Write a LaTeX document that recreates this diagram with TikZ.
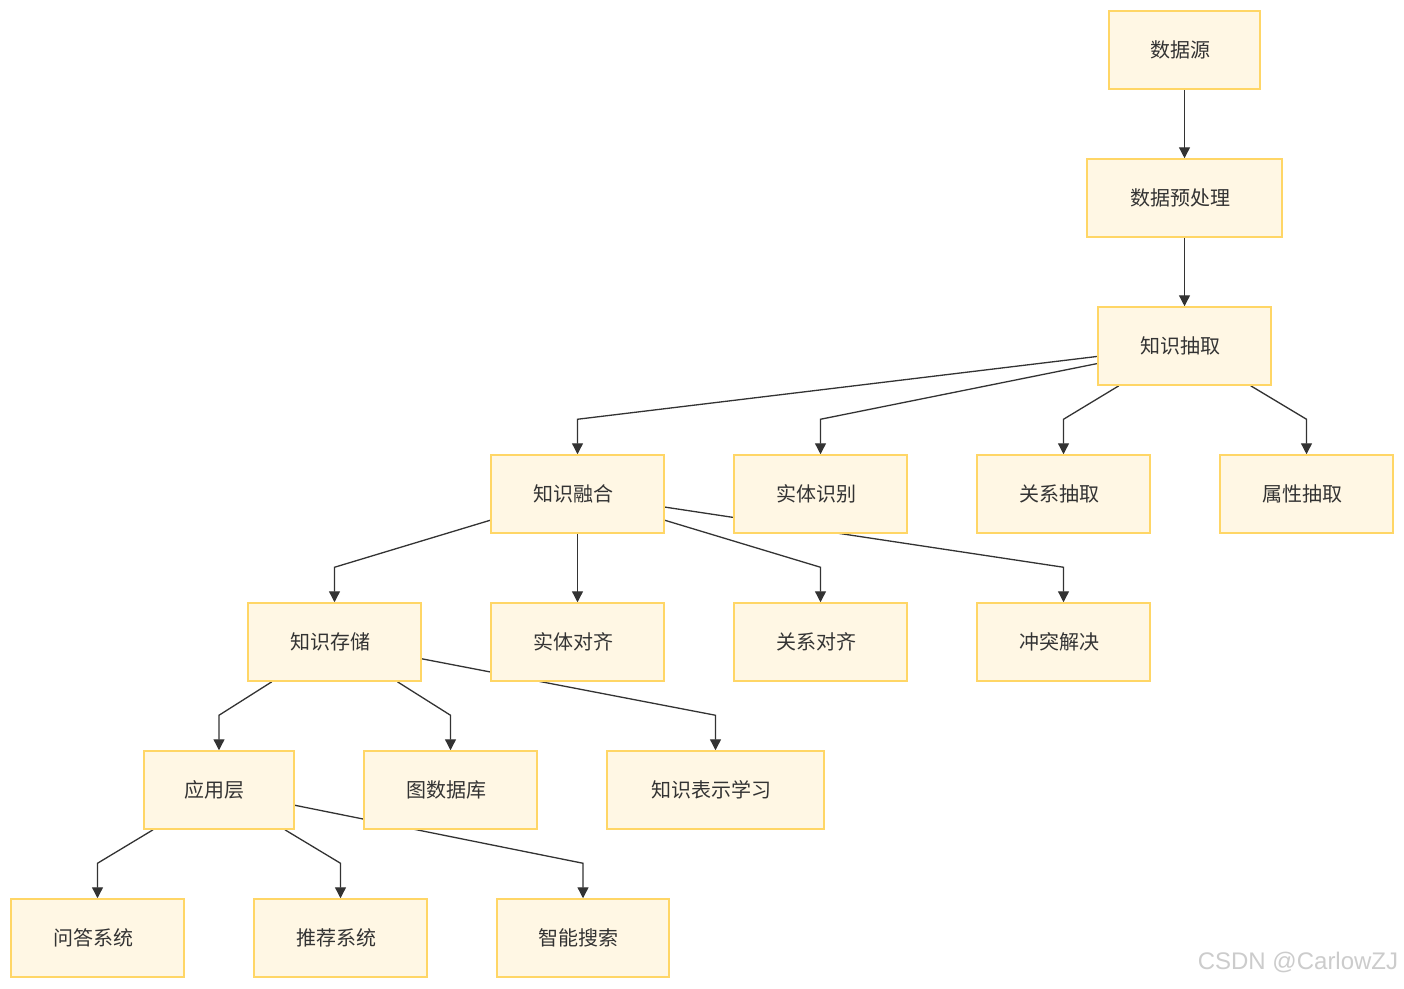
\documentclass[tikz,border=0pt]{standalone}
\usepackage{fontspec}
\newfontfamily\cjk{Noto Sans CJK SC}
\newfontfamily\wmfont{Liberation Sans}
\usetikzlibrary{arrows.meta}
\definecolor{boxfill}{HTML}{FFF7E4}
\definecolor{boxline}{HTML}{FFD666}
\definecolor{ink}{HTML}{333333}
\pgfdeclarelayer{paper}
\pgfdeclarelayer{wires}
\pgfsetlayers{paper,wires,main}

\begin{document}
\begin{tikzpicture}[x=1pt, y=-1pt, >={Triangle[length=11pt,width=11pt]}, box/.style={draw=boxline, line width=1.5pt, fill=boxfill, text=ink, font=\cjk\fontsize{20}{23}\selectfont, minimum width=173pt, minimum height=78pt, inner sep=0pt, execute at begin node={\kern-9pt}}, link/.style={->, draw=ink, line width=1.3pt}]
\begin{pgfonlayer}{paper}
\fill[white] (0,0) rectangle (1404,988);
\useasboundingbox (0,0) rectangle (1404,988);
\end{pgfonlayer}
% pipeline
\node[box, minimum width=151pt] (src) at (1184.5,50) {数据源};
\node[box, minimum width=195pt] (prep) at (1184.5,198) {数据预处理};
\node[box] (extract) at (1184.5,346) {知识抽取};
% extraction tasks
\node[box] (fusion) at (577.5,494) {知识融合};
\node[box] (entity) at (820.5,494) {实体识别};
\node[box] (relext) at (1063.5,494) {关系抽取};
\node[box] (attr) at (1306.5,494) {属性抽取};
% fusion tasks
\node[box] (store) at (334.5,642) {知识存储};
\node[box] (entalign) at (577.5,642) {实体对齐};
\node[box] (relalign) at (820.5,642) {关系对齐};
\node[box] (conflict) at (1063.5,642) {冲突解决};
% storage
\node[box, minimum width=150pt] (app) at (219,790) {应用层};
\node[box] (graphdb) at (450.5,790) {图数据库};
\node[box, minimum width=217pt] (embed) at (715.5,790) {知识表示学习};
% applications
\node[box] (qa) at (97.5,938) {问答系统};
\node[box] (recsys) at (340.5,938) {推荐系统};
\node[box, minimum width=172pt] (search) at (583,938) {智能搜索};
\node[text=black!20, font=\wmfont\fontsize{24}{28}\selectfont] (wm) at (1298,962) {CSDN @CarlowZJ};
\begin{pgfonlayer}{wires}
\draw[link] (src) -- (prep);
\draw[link] (prep) -- (extract);
\draw[link] (extract) -- ([yshift=35pt]fusion.north) -- (fusion);
\draw[link] (extract) -- ([yshift=35pt]entity.north) -- (entity);
\draw[link] (extract) -- ([yshift=35pt]relext.north) -- (relext);
\draw[link] (extract) -- ([yshift=35pt]attr.north) -- (attr);
\draw[link] (fusion) -- ([yshift=35pt]store.north) -- (store);
\draw[link] (fusion) -- (entalign);
\draw[link] (fusion) -- ([yshift=35pt]relalign.north) -- (relalign);
\draw[link] (fusion) -- ([yshift=35pt]conflict.north) -- (conflict);
\draw[link] (store) -- ([yshift=35pt]app.north) -- (app);
\draw[link] (store) -- ([yshift=35pt]graphdb.north) -- (graphdb);
\draw[link] (store) -- ([yshift=35pt]embed.north) -- (embed);
\draw[link] (app) -- ([yshift=35pt]qa.north) -- (qa);
\draw[link] (app) -- ([yshift=35pt]recsys.north) -- (recsys);
\draw[link] (app) -- ([yshift=35pt]search.north) -- (search);
\end{pgfonlayer}
\end{tikzpicture}
\end{document}
